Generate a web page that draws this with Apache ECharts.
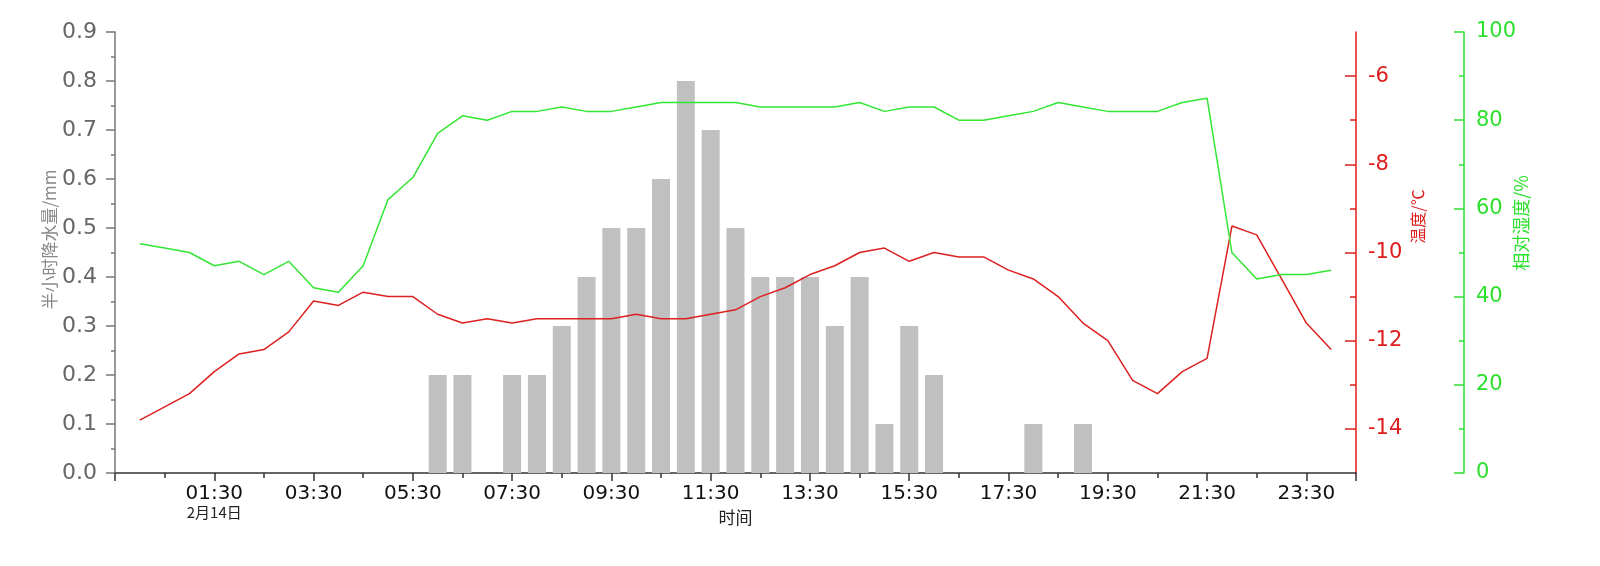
<!DOCTYPE html>
<html><head><meta charset="utf-8">
<script src="https://cdn.jsdelivr.net/npm/echarts@6/dist/echarts.min.js"></script>
<style>html,body{margin:0;padding:0;background:#fff}#c{width:1600px;height:566px}</style>
</head><body><div id="c"></div>
<script>
// half-hourly observation times (Feb 14)
const times = ['00:00','00:30','01:00','01:30','02:00','02:30','03:00','03:30','04:00','04:30',
  '05:00','05:30','06:00','06:30','07:00','07:30','08:00','08:30','09:00','09:30',
  '10:00','10:30','11:00','11:30','12:00','12:30','13:00','13:30','14:00','14:30',
  '15:00','15:30','16:00','16:30','17:00','17:30','18:00','18:30','19:00','19:30',
  '20:00','20:30','21:00','21:30','22:00','22:30','23:00','23:30','24:00'];
// half-hour precipitation (mm)
const rain = [0,0,0,0,0,0,0,0,0,0,
  0,0,0.2,0.2,0,0.2,0.2,0.3,0.4,0.5,
  0.5,0.6,0.8,0.7,0.5,0.4,0.4,0.4,0.3,0.4,
  0.1,0.3,0.2,0,0,0,0.1,0,0.1,0,
  0,0,0,0,0,0,0,0,0];
// temperature (°C)
const temperature = [-13.8,-13.5,-13.2,-12.7,-12.3,-12.2,-11.8,-11.1,-11.2,-10.9,
  -11.0,-11.0,-11.4,-11.6,-11.5,-11.6,-11.5,-11.5,-11.5,-11.5,
  -11.4,-11.5,-11.5,-11.4,-11.3,-11.0,-10.8,-10.5,-10.3,-10.0,
  -9.9,-10.2,-10.0,-10.1,-10.1,-10.4,-10.6,-11.0,-11.6,-12.0,
  -12.9,-13.2,-12.7,-12.4,-9.4,-9.6,-10.6,-11.6,-12.2];
// relative humidity (%)
const humidity = [52,51,50,47,48,45,48,42,41,47,
  62,67,77,81,80,82,82,83,82,82,
  83,84,84,84,84,83,83,83,83,84,
  82,83,83,80,80,81,82,84,83,82,
  82,82,84,85,50,44,45,45,46];
// x-axis tick labels (every 2 hours, starting 01:30)
const xTickLabels = ['01:30','03:30','05:30','07:30','09:30','11:30','13:30','15:30','17:30','19:30','21:30','23:30'];
const dateLabel = '2月14日';
const tempMajor = [-14,-12,-10,-8,-6];
const tempMinor = [-13,-11,-9,-7];

// x position: half-hours since 23:30 of the previous day
function toX(t){ const p = t.split(':').map(Number); return (p[0]*60 + p[1] + 30) / 30; }
const xs = times.map(toX);
const pair = arr => arr.map((v, i) => [xs[i], v]);

const numFont = 'DejaVu Sans';
const cjkFont = 'Noto Sans CJK SC';
const RED = '#dd1c1c', GREEN = '#2ee02e';

const chart = echarts.init(document.getElementById('c'), null, {renderer: 'canvas'});
chart.setOption({
  animation: false,
  backgroundColor: '#fff',
  grid: {left: 115, right: 244, top: 32, bottom: 93},
  xAxis: {
    type: 'value', min: 0, max: 50, interval: 4,
    axisLine: {show: true, lineStyle: {color: '#333', width: 1.5}},
    axisTick: {show: true, length: 8, lineStyle: {color: '#333', width: 1.5}},
    minorTick: {show: true, splitNumber: 2, length: 5, lineStyle: {color: '#333', width: 1.5}},
    splitLine: {show: false}, minorSplitLine: {show: false},
    axisLabel: {
      margin: 10, color: '#111', fontFamily: numFont, fontSize: 20,
      formatter: function (v) {
        const k = Math.round(v / 4) - 1;
        if (v % 4 !== 0 || k < 0 || k >= xTickLabels.length) return '';
        if (k === 0) return '{t|' + xTickLabels[k] + '}\n{d|' + dateLabel + '}';
        return '{t|' + xTickLabels[k] + '}';
      },
      rich: {
        t: {fontFamily: numFont, fontSize: 20, color: '#111', lineHeight: 21},
        d: {fontFamily: cjkFont, fontSize: 15, color: '#222', lineHeight: 17}
      }
    },
    name: '时间', nameLocation: 'middle', nameGap: 36, nameMoveOverlap: false,
    nameTextStyle: {fontFamily: cjkFont, fontSize: 17, color: '#222'}
  },
  yAxis: [
    {
      type: 'value', position: 'left', min: 0, max: 0.9, interval: 0.1,
      axisLine: {show: true, lineStyle: {color: '#777', width: 1.5}},
      axisTick: {show: true, length: 9, lineStyle: {color: '#777', width: 1.5}},
      minorTick: {show: true, splitNumber: 2, length: 4, lineStyle: {color: '#777', width: 1.5}},
      splitLine: {show: false}, minorSplitLine: {show: false},
      axisLabel: {margin: 18, color: '#666', fontFamily: numFont, fontSize: 22,
        formatter: v => v.toFixed(1)},
      name: '半小时降水量/mm', nameLocation: 'middle', nameRotate: 90, nameGap: 57, nameMoveOverlap: false,
      nameTextStyle: {fontFamily: cjkFont, fontSize: 17, color: '#888', padding: [0, 0, 0, 26]}
    },
    {
      type: 'value', position: 'right', min: -15, max: -5, interval: 1,
      axisLine: {show: true, lineStyle: {color: RED, width: 1.5}},
      axisTick: {show: true, inside: true, length: 11, customValues: tempMajor, lineStyle: {color: RED, width: 1.5}},
      splitLine: {show: false},
      axisLabel: {customValues: tempMajor, margin: 12, color: RED, fontFamily: numFont, fontSize: 21},
      name: '温度/℃', nameLocation: 'middle', nameRotate: 90, nameGap: 54, nameMoveOverlap: false,
      nameTextStyle: {fontFamily: cjkFont, fontSize: 16, color: RED, padding: [0, 0, 0, 72]}
    },
    {
      type: 'value', position: 'right', min: -15, max: -5, interval: 1,
      axisLine: {show: false},
      axisTick: {show: true, inside: true, length: 6, customValues: tempMinor, lineStyle: {color: RED, width: 1.5}},
      splitLine: {show: false},
      axisLabel: {show: false}
    },
    {
      type: 'value', position: 'right', offset: 108, min: 0, max: 100, interval: 20,
      axisLine: {show: true, lineStyle: {color: GREEN, width: 1.5}},
      axisTick: {show: true, inside: true, length: 10, lineStyle: {color: GREEN, width: 1.5}},
      minorTick: {show: true, splitNumber: 2, length: 5, lineStyle: {color: GREEN, width: 1.5}},
      splitLine: {show: false}, minorSplitLine: {show: false},
      axisLabel: {margin: 12, color: GREEN, fontFamily: numFont, fontSize: 21},
      name: '相对湿度/%', nameLocation: 'middle', nameRotate: 90, nameGap: 48, nameMoveOverlap: false,
      nameTextStyle: {fontFamily: cjkFont, fontSize: 18, color: GREEN, padding: [0, 0, 0, 59]}
    }
  ],
  series: [
    {type: 'bar', name: '降水量', yAxisIndex: 0, data: pair(rain), barWidth: 18,
      itemStyle: {color: '#c0c0c0'}},
    {type: 'line', name: '温度', yAxisIndex: 1, data: pair(temperature), showSymbol: false,
      lineStyle: {color: '#dd2020', width: 1.5}},
    {type: 'line', name: '相对湿度', yAxisIndex: 3, data: pair(humidity), showSymbol: false,
      lineStyle: {color: '#33e633', width: 1.5}}
  ]
});
</script></body></html>
